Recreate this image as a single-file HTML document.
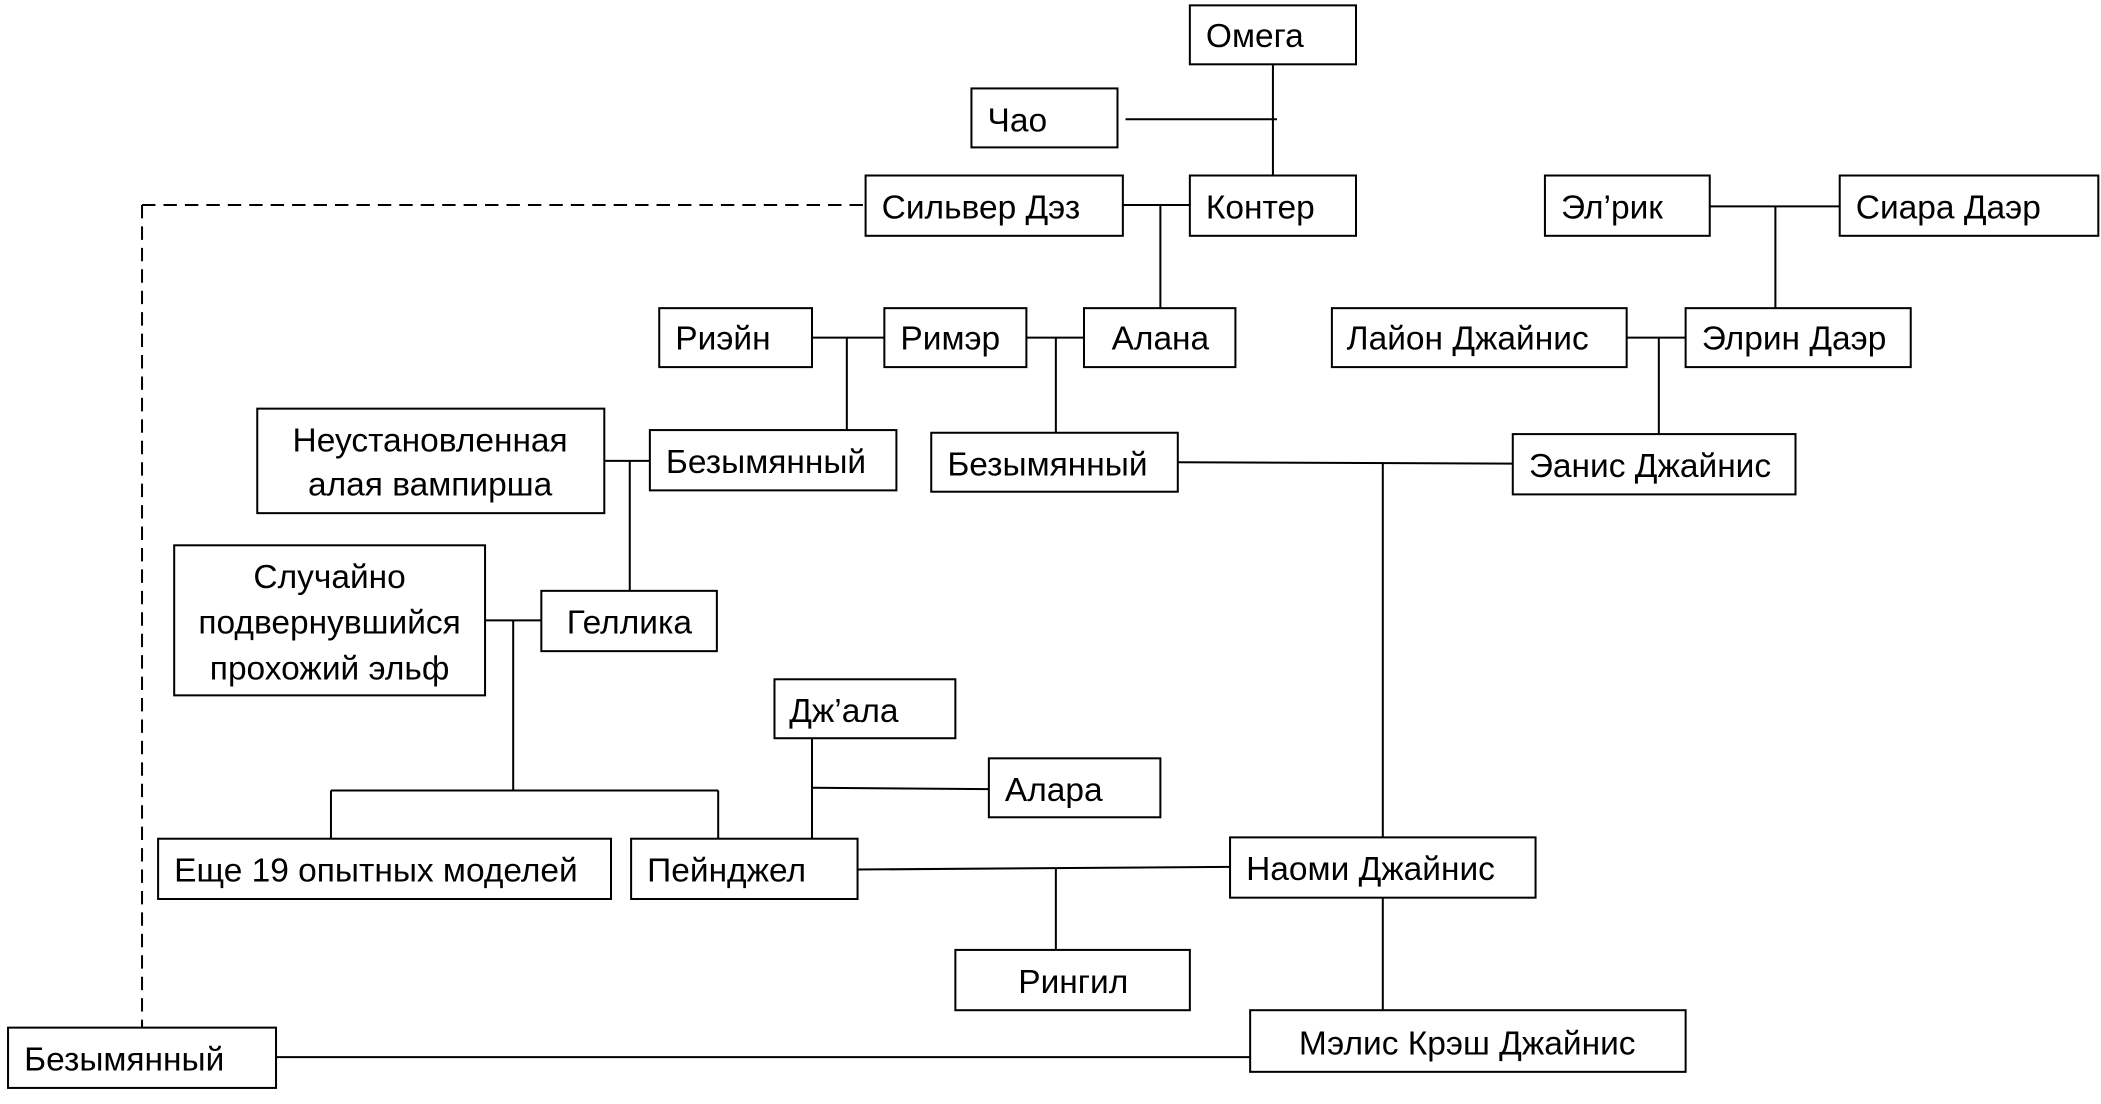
<!DOCTYPE html>
<html><head><meta charset="utf-8">
<style>
html,body{margin:0;padding:0;background:#fff;}
svg{display:block;}
text{font-family:"Liberation Sans","DejaVu Sans",sans-serif;font-size:25px;fill:#000;}
rect{fill:#fff;stroke:#000;stroke-width:1.5;}
line{stroke:#000;stroke-width:1.5;}
</style></head><body>
<svg width="2101" height="1104" viewBox="0 0 1568 824" preserveAspectRatio="none" xmlns="http://www.w3.org/2000/svg">
<line x1="950" y1="48" x2="950" y2="131"/>
<line x1="840" y1="89" x2="953" y2="89"/>
<line x1="838" y1="153" x2="888" y2="153"/>
<line x1="866" y1="153" x2="866" y2="230"/>
<line x1="106" y1="153" x2="646" y2="153" stroke-dasharray="10,6"/>
<line x1="106" y1="153" x2="106" y2="767" stroke-dasharray="10,6"/>
<line x1="1276" y1="154" x2="1373" y2="154"/>
<line x1="1325" y1="154" x2="1325" y2="230"/>
<line x1="606" y1="252" x2="660" y2="252"/>
<line x1="632" y1="252" x2="632" y2="321"/>
<line x1="766" y1="252" x2="809" y2="252"/>
<line x1="788" y1="252" x2="788" y2="323"/>
<line x1="1214" y1="252" x2="1258" y2="252"/>
<line x1="1238" y1="252" x2="1238" y2="324"/>
<line x1="879" y1="345" x2="1129" y2="346"/>
<line x1="1032" y1="346" x2="1032" y2="625"/>
<line x1="451" y1="344" x2="485" y2="344"/>
<line x1="470" y1="344" x2="470" y2="441"/>
<line x1="362" y1="463" x2="404" y2="463"/>
<line x1="383" y1="463" x2="383" y2="590"/>
<line x1="247" y1="590" x2="536" y2="590"/>
<line x1="247" y1="590" x2="247" y2="626"/>
<line x1="536" y1="590" x2="536" y2="626"/>
<line x1="606" y1="551" x2="606" y2="626"/>
<line x1="606" y1="588" x2="738" y2="589"/>
<line x1="640" y1="649" x2="918" y2="647"/>
<line x1="788" y1="648" x2="788" y2="709"/>
<line x1="1032" y1="670" x2="1032" y2="754"/>
<line x1="206" y1="789" x2="933" y2="789"/>
<rect x="888" y="4" width="124" height="44"/><text x="900" y="35">Омега</text>
<rect x="725" y="66" width="109" height="44"/><text x="737" y="98">Чао</text>
<rect x="646" y="131" width="192" height="45"/><text x="658" y="163">Сильвер Дэз</text>
<rect x="888" y="131" width="124" height="45"/><text x="900" y="163">Контер</text>
<rect x="1153" y="131" width="123" height="45"/><text x="1165" y="163">Эл’рик</text>
<rect x="1373" y="131" width="193" height="45"/><text x="1385" y="163">Сиара Даэр</text>
<rect x="492" y="230" width="114" height="44"/><text x="504" y="261">Риэйн</text>
<rect x="660" y="230" width="106" height="44"/><text x="672" y="261">Римэр</text>
<rect x="809" y="230" width="113" height="44"/><text x="866" y="261" text-anchor="middle">Алана</text>
<rect x="994" y="230" width="220" height="44"/><text x="1005" y="261">Лайон Джайнис</text>
<rect x="1258" y="230" width="168" height="44"/><text x="1270" y="261">Элрин Даэр</text>
<rect x="192" y="305" width="259" height="78"/><text x="321" y="337" text-anchor="middle">Неустановленная</text><text x="321" y="370" text-anchor="middle">алая вампирша</text>
<rect x="485" y="321" width="184" height="45"/><text x="497" y="353">Безымянный</text>
<rect x="695" y="323" width="184" height="44"/><text x="707" y="355">Безымянный</text>
<rect x="1129" y="324" width="211" height="45"/><text x="1141" y="356">Эанис Джайнис</text>
<rect x="130" y="407" width="232" height="112"/><text x="246" y="439" text-anchor="middle">Случайно</text><text x="246" y="473" text-anchor="middle">подвернувшийся</text><text x="246" y="507" text-anchor="middle">прохожий эльф</text>
<rect x="404" y="441" width="131" height="45"/><text x="423" y="473">Геллика</text>
<rect x="578" y="507" width="135" height="44"/><text x="589" y="539">Дж’ала</text>
<rect x="738" y="566" width="128" height="44"/><text x="750" y="598">Алара</text>
<rect x="118" y="626" width="338" height="45"/><text x="130" y="658">Еще 19 опытных моделей</text>
<rect x="471" y="626" width="169" height="45"/><text x="483" y="658">Пейнджел</text>
<rect x="918" y="625" width="228" height="45"/><text x="930" y="657">Наоми Джайнис</text>
<rect x="713" y="709" width="175" height="45"/><text x="801" y="741" text-anchor="middle">Рингил</text>
<rect x="6" y="767" width="200" height="45"/><text x="18" y="799">Безымянный</text>
<rect x="933" y="754" width="325" height="46"/><text x="1095" y="787" text-anchor="middle">Мэлис Крэш Джайнис</text>
</svg>
</body></html>
